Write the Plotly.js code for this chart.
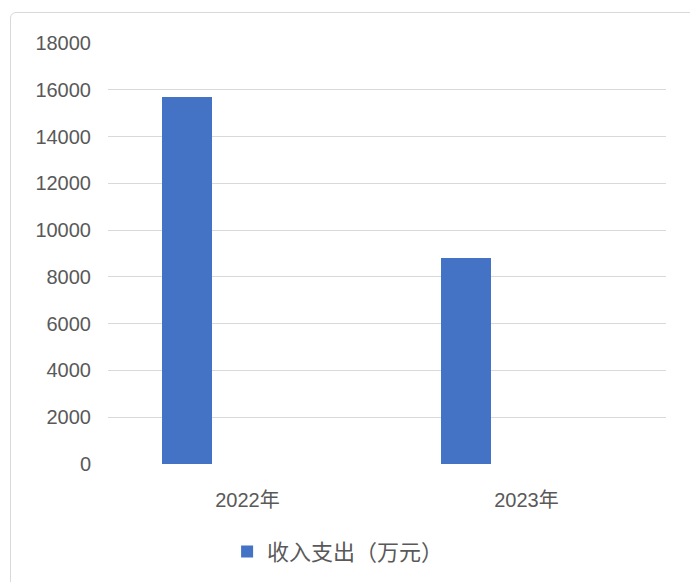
<!DOCTYPE html>
<html><head><meta charset="utf-8">
<script src="https://cdn.plot.ly/plotly-3.0.1.min.js"></script>
<style>
html,body{margin:0;padding:0;background:#fff;}
#frame{position:absolute;left:10px;top:12px;width:700px;height:600px;border:1px solid #d9d9d9;border-radius:6px;box-sizing:border-box;}
#chart{position:absolute;left:0;top:0;width:690px;height:582px;}
</style></head>
<body>
<div id="frame"></div>
<div id="chart"></div>
<script>
const categories = ["2022年", "2023年"];
const values = [15700, 8800];
const seriesName = "收入支出（万元）";
const yTicks = [0, 2000, 4000, 6000, 8000, 10000, 12000, 14000, 16000, 18000];

const font = "Liberation Sans, Arial, Noto Sans CJK SC, sans-serif";
Plotly.newPlot("chart", [{
  type: "bar",
  x: categories,
  y: values,
  name: seriesName,
  marker: {color: "#4472C4"},
  width: 0.179,
  offset: -0.308,
  showlegend: true
}], {
  width: 690, height: 582,
  paper_bgcolor: "rgba(0,0,0,0)",
  plot_bgcolor: "rgba(0,0,0,0)",
  margin: {l: 108, r: 24, t: 43, b: 118},
  font: {family: font, color: "#595959", size: 20},
  xaxis: {type: "category", range: [-0.5, 1.5], showgrid: false, zeroline: false, automargin: false,
          showline: false, ticks: "", ticklabelstandoff: 22, tickfont: {size: 20}},
  yaxis: {range: [0, 18000], tickvals: yTicks, ticktext: yTicks.map(String), automargin: false,
          showgrid: true, gridcolor: "#d9d9d9", gridwidth: 1, zeroline: false,
          showline: false, ticks: "", ticklabelstandoff: 16, tickfont: {size: 20}},
  showlegend: true,
  legend: {orientation: "h", xref: "container", x: 0.49, xanchor: "center",
           yref: "container", y: 0.052, yanchor: "middle",
           font: {size: 22, color: "#595959"}, itemwidth: 30},
  bargap: 0
}, {displayModeBar: false, staticPlot: true});
</script>
</body></html>
